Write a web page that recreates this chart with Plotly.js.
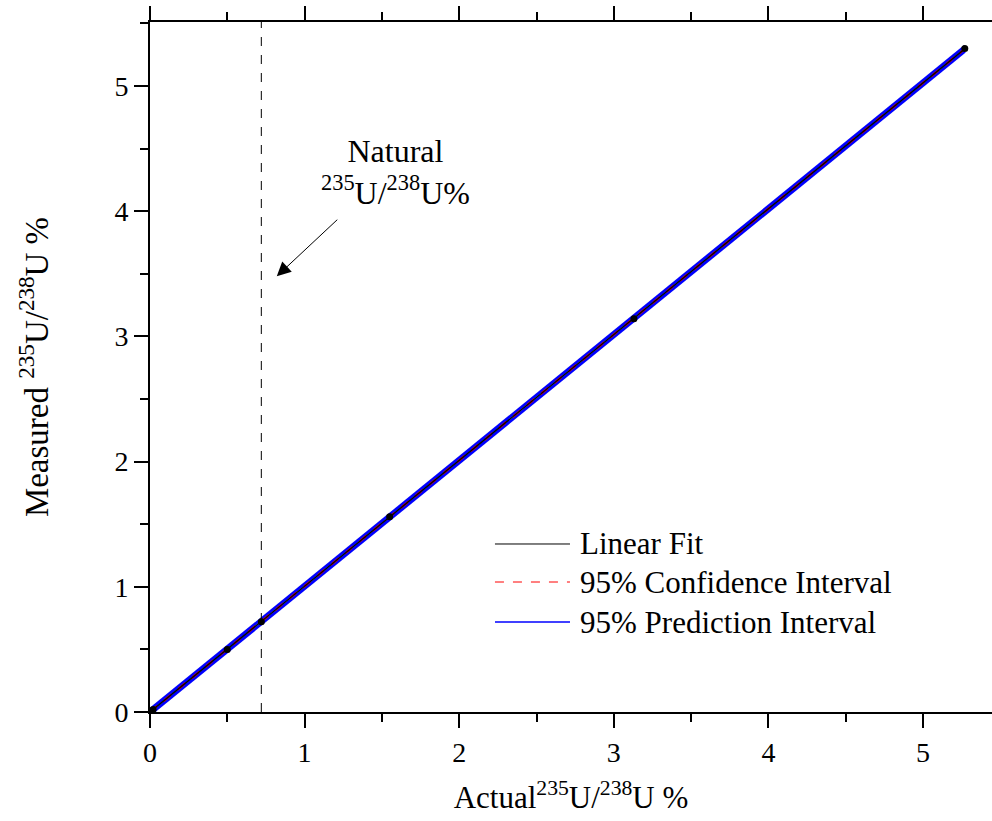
<!DOCTYPE html>
<html>
<head>
<meta charset="utf-8">
<script src="https://cdn.plot.ly/plotly-3.0.1.min.js"></script>
<style>html,body{margin:0;padding:0;background:#fff;}#chart{width:992px;height:821px;}</style>
</head>
<body>
<div id="chart"></div>
<script>
// Data
const actual   = [0.02, 0.50, 0.72, 1.55, 3.13, 5.27];
const measured = [0.02, 0.50, 0.72, 1.56, 3.14, 5.30];
const fitX     = [0.0, 5.27];
const fitY     = [0.0, 5.296];
const confUpper = [0.008, 5.304];
const confLower = [-0.008, 5.288];
const predUpper = [0.02, 5.316];
const predLower = [-0.02, 5.276];
const naturalRatio = 0.72;
const xTicks = [0, 1, 2, 3, 4, 5];
const yTicks = [0, 1, 2, 3, 4, 5];
const legendNames = ['Linear Fit', '95% Confidence Interval', '95% Prediction Interval'];

const FONT = 'Liberation Serif';

const traces = [
  {x: fitX, y: predLower, mode: 'lines', name: '95% Prediction Interval (lower)', line: {color: '#0000ff', width: 3}, showlegend: false, hoverinfo: 'skip'},
  {x: fitX, y: predUpper, mode: 'lines', name: '95% Prediction Interval (upper)', line: {color: '#0000ff', width: 3}, showlegend: false, hoverinfo: 'skip'},
  {x: fitX, y: confLower, mode: 'lines', name: '95% Confidence Interval (lower)', line: {color: '#ff0000', width: 1, dash: 'dash'}, showlegend: false, hoverinfo: 'skip'},
  {x: fitX, y: confUpper, mode: 'lines', name: '95% Confidence Interval (upper)', line: {color: '#ff0000', width: 1, dash: 'dash'}, showlegend: false, hoverinfo: 'skip'},
  {x: fitX, y: fitY, mode: 'lines', name: 'Linear Fit', line: {color: '#000000', width: 1.5}, showlegend: false},
  {x: actual, y: measured, mode: 'markers', name: 'Measured', marker: {color: '#000', size: 7}, showlegend: false}
];

// manual legend (line samples + labels), in paper coordinates
const legRowsY = [0.2435, 0.1884, 0.1304];
const legStyles = [
  {color: '#000000', width: 1},
  {color: '#ff0000', width: 1, dash: 'dash'},
  {color: '#0000ff', width: 1.5}
];
const legShapes = legRowsY.map((yy, i) => ({
  type: 'line', xref: 'paper', yref: 'paper', x0: 0.4097, x1: 0.4988, y0: yy, y1: yy, line: legStyles[i]
}));
const legText = legRowsY.map((yy, i) => ({
  xref: 'paper', yref: 'paper', x: 0.5083, y: yy, xanchor: 'left', yanchor: 'middle',
  text: legendNames[i], showarrow: false, font: {family: FONT, size: 31, color: '#000'}
}));

const layout = {
  width: 992, height: 821,
  margin: {l: 150, r: 0, t: 22, b: 109},
  paper_bgcolor: '#fff', plot_bgcolor: '#fff',
  font: {family: FONT, color: '#000', size: 28},
  showlegend: false,
  xaxis: {
    range: [0, 5.446], tickvals: xTicks, ticktext: xTicks.map(String),
    showgrid: false, zeroline: false, showline: true, linecolor: '#000', linewidth: 2,
    mirror: 'ticks', ticks: 'outside', ticklen: 14, tickwidth: 2, tickcolor: '#000',
    minor: {dtick: 0.5, ticks: 'outside', ticklen: 8, tickwidth: 2, tickcolor: '#000', showgrid: false},
    tickfont: {family: FONT, size: 28},
    title: {text: 'Actual<sup>235</sup>U/<sup>238</sup>U %', font: {family: FONT, size: 31}, standoff: 20}
  },
  yaxis: {
    range: [0, 5.511], tickvals: yTicks, ticktext: yTicks.map(String),
    showgrid: false, zeroline: false, showline: true, linecolor: '#000', linewidth: 2,
    mirror: false, ticks: 'outside', ticklen: 14, tickwidth: 2, tickcolor: '#000',
    minor: {dtick: 0.5, ticks: 'outside', ticklen: 8, tickwidth: 2, tickcolor: '#000', showgrid: false},
    tickfont: {family: FONT, size: 28},
    title: {text: 'Measured <sup>235</sup>U/<sup>238</sup>U %', font: {family: FONT, size: 33}, standoff: 56}
  },
  shapes: [
    {type: 'line', xref: 'x', yref: 'paper', x0: naturalRatio, x1: naturalRatio, y0: 0, y1: 1,
     line: {color: '#000', width: 1, dash: 'dash'}}
  ].concat(legShapes),
  annotations: [
    {x: 1.585, y: 4.31, xref: 'x', yref: 'y', text: 'Natural<br><sup>235</sup>U/<sup>238</sup>U%',
     showarrow: false, font: {family: FONT, size: 32, color: '#000'}, align: 'center'},
    {x: 0.82, y: 3.48, xref: 'x', yref: 'y', text: '', showarrow: true, ax: 62, ay: -58,
     arrowhead: 2, arrowsize: 2.8, arrowwidth: 1, arrowcolor: '#000'}
  ].concat(legText)
};

Plotly.newPlot('chart', traces, layout, {displayModeBar: false, staticPlot: true});
</script>
</body>
</html>
